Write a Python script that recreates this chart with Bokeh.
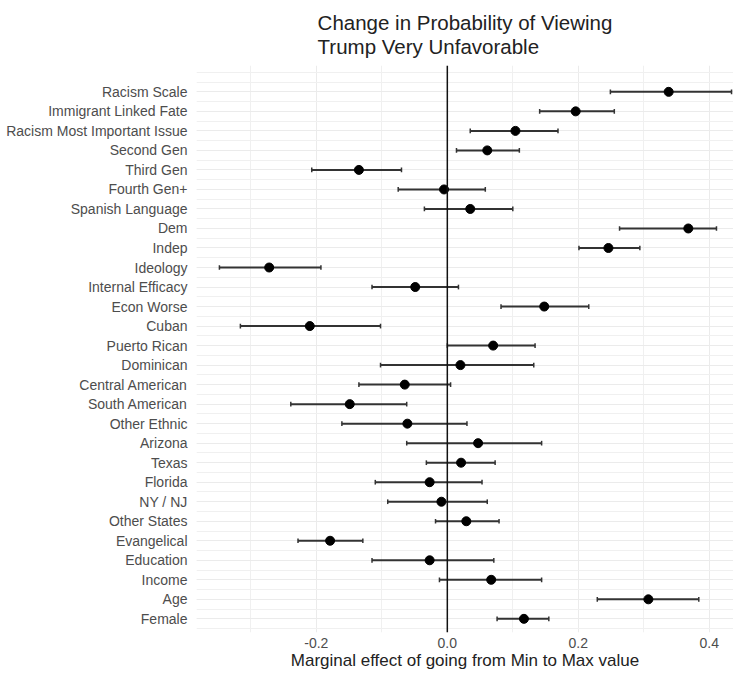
from bokeh.plotting import figure
from bokeh.models import FixedTicker, PrintfTickFormatter, Span, ColumnDataSource
from bokeh.embed import file_html
from bokeh.resources import INLINE

categories = ["Racism Scale", "Immigrant Linked Fate", "Racism Most Important Issue",
              "Second Gen", "Third Gen", "Fourth Gen+", "Spanish Language", "Dem",
              "Indep", "Ideology", "Internal Efficacy", "Econ Worse", "Cuban",
              "Puerto Rican", "Dominican", "Central American", "South American",
              "Other Ethnic", "Arizona", "Texas", "Florida", "NY / NJ", "Other States",
              "Evangelical", "Education", "Income", "Age", "Female"]
estimate = [0.338, 0.196, 0.104, 0.061, -0.135, -0.005, 0.035, 0.368,
            0.246, -0.272, -0.049, 0.148, -0.210, 0.070, 0.020, -0.065,
            -0.149, -0.061, 0.047, 0.021, -0.027, -0.009, 0.029, -0.179,
            -0.027, 0.067, 0.307, 0.117]
lower = [0.249, 0.141, 0.035, 0.014, -0.207, -0.075, -0.035, 0.263,
         0.201, -0.348, -0.115, 0.082, -0.316, 0.000, -0.102, -0.135,
         -0.239, -0.161, -0.062, -0.032, -0.110, -0.091, -0.018, -0.228,
         -0.115, -0.012, 0.229, 0.076]
upper = [0.434, 0.255, 0.169, 0.110, -0.070, 0.058, 0.100, 0.411,
         0.294, -0.193, 0.017, 0.216, -0.102, 0.134, 0.132, 0.005,
         -0.062, 0.030, 0.144, 0.073, 0.053, 0.061, 0.079, -0.129,
         0.071, 0.144, 0.384, 0.155]
x_ticks = [-0.2, 0.0, 0.2, 0.4]
x_minor = [-0.3, -0.1, 0.1, 0.3]
title_lines = ["Change in Probability of Viewing", "Trump Very Unfavorable"]
x_title = "Marginal effect of going from Min to Max value"

n = len(categories)
ypos = [n - i for i in range(n)]

src = ColumnDataSource(dict(y=ypos, est=estimate, lo=lower, hi=upper,
                            ylo=[v - 0.12 for v in ypos], yhi=[v + 0.12 for v in ypos]))

p = figure(width=733, height=672, output_backend="svg", toolbar_location=None,
           x_range=(-0.383, 0.437), y_range=(0.3, n + 1.35),
           min_border_left=196, min_border_right=0, min_border_top=65, min_border_bottom=40)
p.outline_line_color = None
p.background_fill_color = "white"
p.border_fill_color = "white"

FONT = "Liberation Sans"
p.title.text = "\n".join(title_lines)
p.title.align = "center"
p.title.text_font = FONT
p.title.text_font_size = "20.5px"
p.title.text_font_style = "normal"
p.title.text_color = "#222222"
p.title.text_line_height = 1.05
p.title.standoff = 15

# axes
yax = p.yaxis[0]
yax.ticker = FixedTicker(ticks=ypos, minor_ticks=[k * 0.5 for k in range(0, 2 * n + 3)])
yax.major_label_overrides = {ypos[i]: categories[i] for i in range(n)}
xax = p.xaxis[0]
xax.ticker = FixedTicker(ticks=x_ticks, minor_ticks=x_minor)
xax.formatter = PrintfTickFormatter(format="%.1f")
xax.major_label_standoff = 5
xax.axis_label = x_title
xax.axis_label_text_font = FONT
xax.axis_label_text_font_size = "17px"
xax.axis_label_text_font_style = "normal"
xax.axis_label_text_color = "#222222"
xax.axis_label_standoff = 0
for ax in (xax, yax):
    ax.axis_line_color = None
    ax.major_tick_line_color = None
    ax.minor_tick_line_color = None
    ax.major_tick_out = 0
    ax.minor_tick_out = 0
    ax.major_tick_in = 0
    ax.minor_tick_in = 0
    ax.major_label_text_font = FONT
    ax.major_label_text_font_size = "14px"
    ax.major_label_text_color = "#4D4D4D"
yax.major_label_standoff = 9

for g in (p.xgrid[0], p.ygrid[0]):
    g.grid_line_color = "#EBEBEB"
    g.grid_line_width = 1
    g.minor_grid_line_color = "#F0F0F0"
    g.minor_grid_line_width = 1
p.xgrid[0].ticker = xax.ticker
p.ygrid[0].ticker = yax.ticker

p.add_layout(Span(location=0, dimension="height", line_color="#111111", line_width=1.5))

p.segment(x0="lo", y0="y", x1="hi", y1="y", source=src, line_color="#333333", line_width=2)
p.segment(x0="lo", y0="ylo", x1="lo", y1="yhi", source=src, line_color="#333333", line_width=1.5)
p.segment(x0="hi", y0="ylo", x1="hi", y1="yhi", source=src, line_color="#333333", line_width=1.5)
p.scatter(x="est", y="y", source=src, size=9, fill_color="black", line_color="black")

open("out.html", "w").write(file_html(p, INLINE))
